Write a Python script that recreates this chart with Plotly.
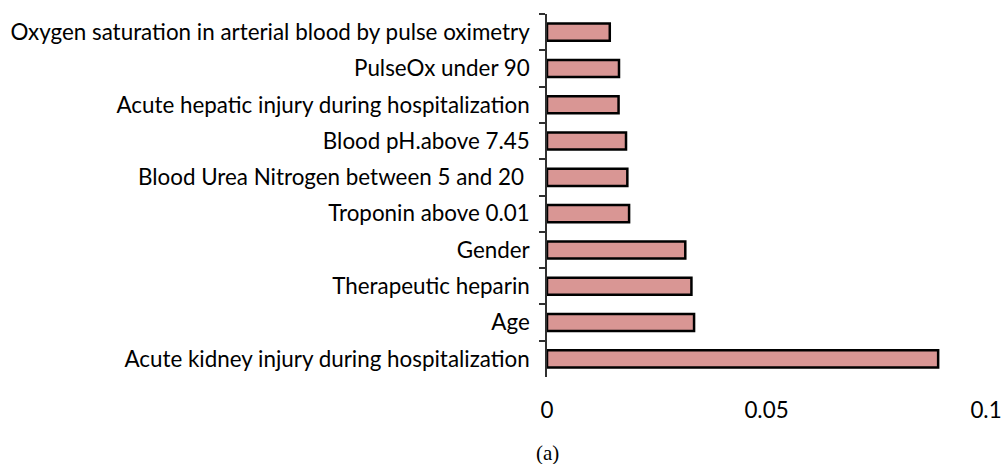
import plotly.graph_objects as go

categories = [
    "Oxygen saturation in arterial blood by pulse oximetry",
    "PulseOx under 90",
    "Acute hepatic injury during hospitalization",
    "Blood pH.above 7.45",
    "Blood Urea Nitrogen between 5 and 20\u00a0",
    "Troponin above 0.01",
    "Gender",
    "Therapeutic heparin",
    "Age",
    "Acute kidney injury during hospitalization",
]
importance = [0.0143, 0.0164, 0.0163, 0.0180, 0.0183, 0.0187, 0.0315, 0.0329, 0.0335, 0.0891]
x_ticks = [0, 0.05, 0.1]
x_tick_labels = ["0", "0.05", "0.1"]

fig = go.Figure(
    go.Bar(
        x=importance,
        y=categories,
        orientation="h",
        width=0.47,
        marker=dict(color="#D99694", line=dict(color="black", width=2.5)),
    )
)

label_font = dict(family="Lato, sans-serif", size=22.4, color="black")

fig.update_layout(
    width=1004,
    height=464,
    margin=dict(l=547, r=18, t=14, b=87),
    paper_bgcolor="white",
    plot_bgcolor="white",
    showlegend=False,
    xaxis=dict(
        range=[0, 0.1],
        tickvals=x_ticks,
        ticktext=x_tick_labels,
        showgrid=False,
        zeroline=False,
        showline=False,
        ticks="outside",
        ticklen=13,
        tickcolor="rgba(0,0,0,0)",
        tickfont=label_font,
        automargin=False,
    ),
    yaxis=dict(
        autorange="reversed",
        showgrid=False,
        zeroline=False,
        showline=True,
        linecolor="#303030",
        linewidth=1.5,
        ticks="outside",
        tickson="boundaries",
        ticklen=6,
        tickwidth=1.5,
        tickcolor="#303030",
        tickfont=label_font,
        ticklabelstandoff=11,
        automargin=False,
    ),
    annotations=[
        dict(
            text="(a)",
            x=0,
            xref="x",
            y=-0.208,
            yref="paper",
            xanchor="center",
            yanchor="middle",
            showarrow=False,
            font=dict(family="Liberation Serif, serif", size=21, color="black"),
        )
    ],
)

fig.write_html(
    "out.html",
    config={"displayModeBar": False},
    post_script="document.body.style.margin='0';document.body.style.overflow='hidden';",
)
